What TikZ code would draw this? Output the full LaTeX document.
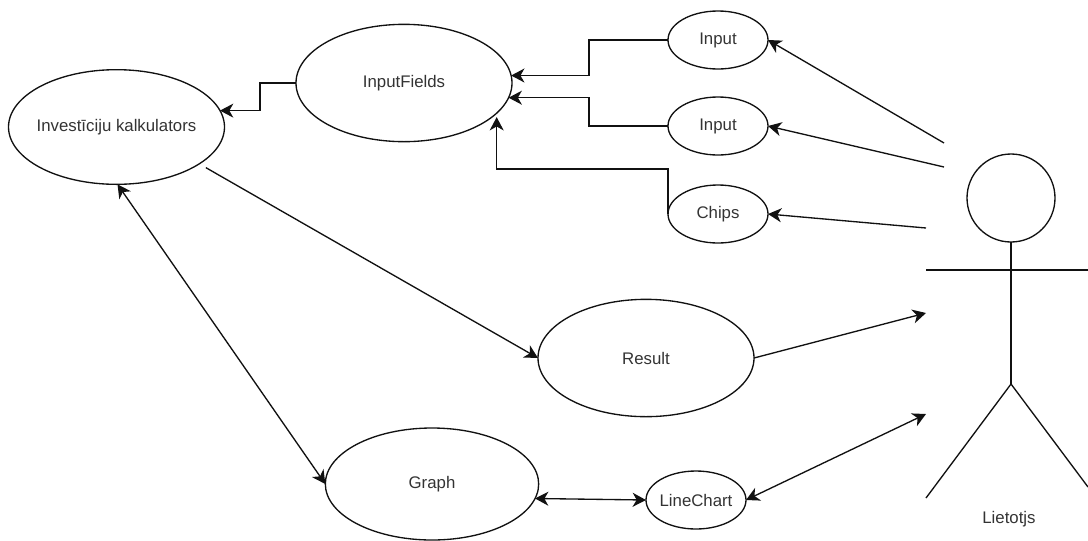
\documentclass[tikz,border=0pt]{standalone}
\usepackage{fontspec}
\setmainfont{Liberation Sans}
\usetikzlibrary{shapes.geometric,arrows.meta}
\definecolor{txt}{HTML}{333333}
\definecolor{ln}{HTML}{111111}
\newcommand{\ucText}[1]{\makebox[0pt][c]{\raisebox{-1pt}{#1}}}
\tikzset{
  uc/.style={ellipse,draw=ln,line width=1pt,inner sep=0pt,outer sep=0pt,text=txt,font=\fontsize{12.6}{15}\selectfont},
  lbl/.style={text=txt,inner sep=0pt,font=\fontsize{12.6}{15}\selectfont},
  head/.style={-{Stealth[length=10pt,width=10.5pt,inset=3pt]}},
  both/.style={{Stealth[length=10pt,width=10.5pt,inset=3pt]}-{Stealth[length=10pt,width=10.5pt,inset=3pt]}},
  wire/.style={draw=ln,line width=1pt},
  big/.style={uc,minimum width=162pt,minimum height=88pt},
  small/.style={uc,minimum width=75pt,minimum height=43.5pt},
}
\begin{document}
\begin{tikzpicture}[x=0.75pt,y=-0.75pt]
\useasboundingbox (0,0) rectangle (1088,540);
\node[big,minimum height=86pt] (inv) at (116.5,127) {\ucText{Investīciju kalkulators}};
\node[big] (fields) at (404,83) {\ucText{InputFields}};
\node[big] (result) at (646,358) {\ucText{Result}};
\node[big,minimum width=160pt,minimum height=84pt] (graph) at (432,484) {\ucText{Graph}};
\node[small] (in1) at (718,40) {\ucText{Input}};
\node[small] (in2) at (718,126) {\ucText{Input}};
\node[small] (chips) at (718,214) {\ucText{Chips}};
\node[small] (chart) at (696,500) {\ucText{LineChart}};
% actor
\node[circle,wire,minimum size=66pt,inner sep=0pt,outer sep=0pt] (actorhead) at (1011,198) {};
\coordinate (neck) at (1011,384);
\coordinate (armL) at (926,270);
\coordinate (armR) at (1088,270);
\coordinate (legL) at (926,498);
\coordinate (legR) at (1088,487);
\draw[wire] (actorhead.south) -- (neck);
\draw[wire] (armL) -- (armR);
\draw[wire] (legL) -- (neck) -- (legR);
\node[lbl] (actorlabel) at (1009,519) {Lietotjs};
% free ends
\coordinate (u1) at (944,143);
\coordinate (u2) at (944,167);
\coordinate (u3) at (926,228);
\coordinate (u4) at (926,313);
\coordinate (u5) at (926,414);
% connectors
\draw[wire,head] (u1) -- (in1.east);
\draw[wire,head] (u2) -- (in2.east);
\draw[wire,head] (u3) -- (chips.east);
\draw[wire,head] (result.east) -- (u4);
\draw[wire,both] (chart.east) -- (u5);
\draw[wire,both] (graph.-8) -- (chart.west);
\draw[wire,both] (inv.-89) -- (graph.west);
\draw[wire,head,shorten <=5.7pt] (inv.-24) -- (result.west);
\draw[wire,head] (fields.west) -- ++(-36,0) |- (inv.9);
\draw[wire,head] (in1.west) -- ++(-79,0) |- (fields.4);
\draw[wire,head] (in2.west) -- ++(-79,0) |- (fields.-8.4);
\draw[wire,head,shorten >=3pt] (chips.west) -- ++(0,-45) -| (fields.-18.6);
\end{tikzpicture}
\end{document}
